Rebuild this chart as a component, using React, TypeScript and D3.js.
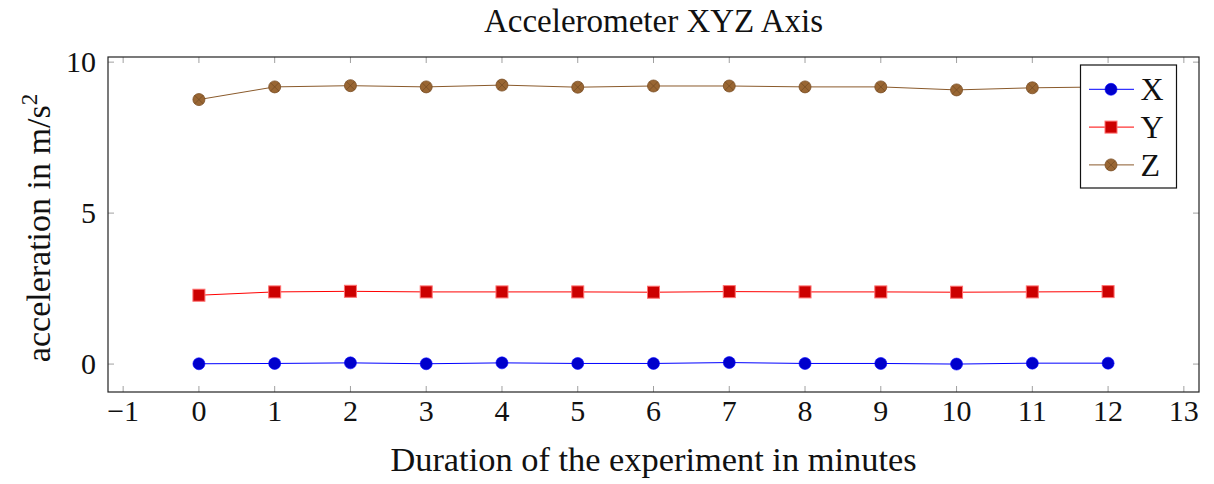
import { useEffect, useRef } from 'react'
import * as d3 from 'd3'

const minutes = [0, 1, 2, 3, 4, 5, 6, 7, 8, 9, 10, 11, 12]
const xValues = [0.01, 0.02, 0.04, 0.01, 0.04, 0.02, 0.02, 0.05, 0.02, 0.02, 0.0, 0.03, 0.03]
const yValues = [2.28, 2.39, 2.41, 2.39, 2.39, 2.39, 2.38, 2.4, 2.39, 2.39, 2.38, 2.39, 2.4]
const zValues = [8.76, 9.18, 9.22, 9.18, 9.24, 9.17, 9.21, 9.21, 9.18, 9.18, 9.08, 9.15, 9.18]
const xTicks = [-1, 0, 1, 2, 3, 4, 5, 6, 7, 8, 9, 10, 11, 12, 13]
const yTicks = [0, 5, 10]
const seriesNames = ['X', 'Y', 'Z']

const FONT = '"Liberation Serif", "DejaVu Serif", serif'

export default function App() {
  const ref = useRef<SVGSVGElement>(null)

  useEffect(() => {
    const root = d3.select(ref.current)
    root.selectAll('*').remove()

    const W = 1214
    const H = 484
    const margin = { top: 57, right: 15, bottom: 92, left: 108 }
    const width = W - margin.left - margin.right
    const height = H - margin.top - margin.bottom

    const x = d3.scaleLinear().domain([-1.2, 13.2]).range([0, width])
    const y = d3.scaleLinear().domain([-0.925, 10.17]).range([height, 0])

    const svg = root.append('g').attr('transform', `translate(${margin.left},${margin.top})`)

    // ticks (inside, both sides)
    const tickColor = '#a0a0a0'
    const tl = 6
    xTicks.forEach(t => {
      svg.append('line').attr('x1', x(t)).attr('x2', x(t)).attr('y1', height).attr('y2', height - tl)
        .attr('stroke', tickColor).attr('stroke-width', 1)
      svg.append('line').attr('x1', x(t)).attr('x2', x(t)).attr('y1', 0).attr('y2', tl)
        .attr('stroke', tickColor).attr('stroke-width', 1)
      svg.append('text').attr('x', x(t)).attr('y', height + 29)
        .attr('text-anchor', 'middle').attr('font-family', FONT).attr('font-size', 30)
        .attr('fill', '#111')
        .text(t < 0 ? '\u2212' + Math.abs(t) : String(t))
    })
    yTicks.forEach(t => {
      svg.append('line').attr('x1', 0).attr('x2', tl).attr('y1', y(t)).attr('y2', y(t))
        .attr('stroke', tickColor).attr('stroke-width', 1)
      svg.append('line').attr('x1', width).attr('x2', width - tl).attr('y1', y(t)).attr('y2', y(t))
        .attr('stroke', tickColor).attr('stroke-width', 1)
      svg.append('text').attr('x', -12).attr('y', y(t)).attr('dy', '0.33em')
        .attr('text-anchor', 'end').attr('font-family', FONT).attr('font-size', 30)
        .attr('fill', '#111').text(String(t))
    })

    const series = [
      { name: seriesNames[0], values: xValues, line: '#0000ff', fill: '#0000cc', mark: 'circle' },
      { name: seriesNames[1], values: yValues, line: '#ff0000', fill: '#cc0000', mark: 'square' },
      { name: seriesNames[2], values: zValues, line: '#8a5a2b', fill: '#996633', mark: 'otimes' },
    ]

    const drawMark = (g: any, cx: number, cy: number, s: any) => {
      if (s.mark === 'circle') {
        g.append('circle').attr('cx', cx).attr('cy', cy).attr('r', 6)
          .attr('fill', s.fill).attr('stroke', s.line).attr('stroke-width', 0.6)
      } else if (s.mark === 'square') {
        g.append('rect').attr('x', cx - 6).attr('y', cy - 6).attr('width', 12).attr('height', 12)
          .attr('fill', s.fill).attr('stroke', '#ff7070').attr('stroke-width', 1)
      } else {
        g.append('circle').attr('cx', cx).attr('cy', cy).attr('r', 6)
          .attr('fill', s.fill).attr('stroke', '#7a4e25').attr('stroke-width', 0.8)
        const d = 6 * Math.SQRT1_2
        g.append('path')
          .attr('d', `M${cx - d},${cy - d}L${cx + d},${cy + d}M${cx - d},${cy + d}L${cx + d},${cy - d}`)
          .attr('stroke', '#6b4420').attr('stroke-width', 0.6).attr('fill', 'none')
      }
    }

    series.forEach(s => {
      const pts = minutes.map((m, i) => [m, s.values[i]] as [number, number])
      const line = d3.line<[number, number]>().x(d => x(d[0])).y(d => y(d[1]))
      svg.append('path').datum(pts).attr('d', line).attr('fill', 'none')
        .attr('stroke', s.line).attr('stroke-width', 1)
      const g = svg.append('g')
      pts.forEach(p => drawMark(g, x(p[0]), y(p[1]), s))
    })

    // frame
    svg.append('rect').attr('x', 0).attr('y', 0).attr('width', width).attr('height', height)
      .attr('fill', 'none').attr('stroke', '#222').attr('stroke-width', 1.2)

    // legend
    const lx = 1080.5 - margin.left
    const ly = 65 - margin.top
    const leg = svg.append('g').attr('transform', `translate(${lx},${ly})`)
    leg.append('rect').attr('x', 0).attr('y', 0).attr('width', 96).attr('height', 123)
      .attr('fill', 'white').attr('stroke', '#111').attr('stroke-width', 1.2)
    series.forEach((s, i) => {
      const cy = 24.3 + i * 37.8
      leg.append('line').attr('x1', 8.5).attr('x2', 53.5).attr('y1', cy).attr('y2', cy)
        .attr('stroke', s.line).attr('stroke-width', 1)
      drawMark(leg, 30.5, cy, s)
      leg.append('text').attr('x', 60).attr('y', cy).attr('dy', '0.34em')
        .attr('font-family', FONT).attr('font-size', 32).attr('fill', '#111').text(s.name)
    })

    // title and axis labels
    root.append('text').attr('x', margin.left + width / 2).attr('y', 32)
      .attr('text-anchor', 'middle').attr('font-family', FONT).attr('font-size', 33)
      .attr('fill', '#111').text('Accelerometer XYZ Axis')
    root.append('text').attr('x', margin.left + width / 2).attr('y', 471)
      .attr('text-anchor', 'middle').attr('font-family', FONT).attr('font-size', 34.4)
      .attr('fill', '#111').text('Duration of the experiment in minutes')
    const yl = root.append('text')
      .attr('transform', `translate(50,228) rotate(-90)`)
      .attr('text-anchor', 'middle').attr('font-family', FONT).attr('font-size', 34)
      .attr('fill', '#111')
    yl.append('tspan').text('acceleration in m/s')
    yl.append('tspan').attr('font-size', 23).attr('dy', -13).text('2')
  }, [])

  return (
    <svg ref={ref} width={1214} height={484}
      style={{ position: 'absolute', left: 0, top: 0, background: 'white' }} />
  )
}
